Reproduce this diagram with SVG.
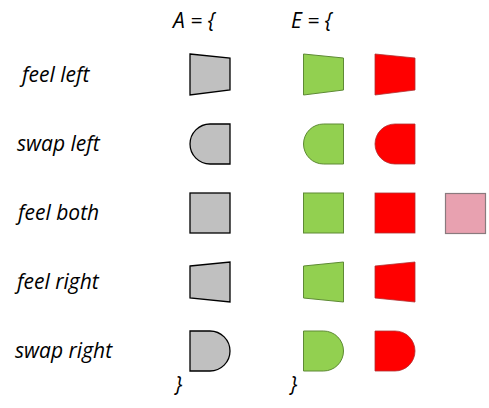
<svg xmlns="http://www.w3.org/2000/svg" width="489" height="408" viewBox="0 0 489 408">
<style>
text{font-family:"Open Sans","Noto Sans","Liberation Sans",sans-serif;font-style:italic;font-size:21px;fill:#000}
.g{fill:#c0c0c0;stroke:#000;stroke-width:1.3}
.gr{fill:#92d050;stroke:#5e8a35;stroke-width:1}
.r{fill:#ff0000;stroke:#b03030;stroke-width:0.8}
.p{fill:#e8a1b0;stroke:#8a7a7e;stroke-width:1.2}
</style>
<defs>
<path id="fl" d="M0,54 L40,58 L40,90 L0,95 Z"/>
<path id="sl" d="M20,124 L40,124 L40,164 L20,164 A20,20 0 0 1 20,124 Z"/>
<rect id="fb" x="0" y="193" width="40" height="40"/>
<path id="fr" d="M0,266 L40,262 L40,302 L0,298 Z"/>
<path id="sr" d="M0,331 L20,331 A20,20 0 0 1 20,371 L0,371 Z"/>
</defs>
<g id="labels">
<text x="173" y="28">A = {</text>
<text x="291" y="28">E = {</text>
<text x="22" y="82">feel left</text>
<text x="17" y="151">swap left</text>
<text x="18" y="220">feel both</text>
<text x="17" y="289">feel right</text>
<text x="15" y="358">swap right</text>
<text x="175" y="392">}</text>
<text x="290" y="392">}</text>
</g>
<g id="col-A">
<use href="#fl" x="190" class="g"/>
<use href="#sl" x="190" class="g"/>
<use href="#fb" x="190" class="g"/>
<use href="#fr" x="190" class="g"/>
<use href="#sr" x="190" class="g"/>
</g>
<g id="col-E-green">
<use href="#fl" x="303.5" class="gr"/>
<use href="#sl" x="303.5" class="gr"/>
<use href="#fb" x="303.5" class="gr"/>
<use href="#fr" x="303.5" class="gr"/>
<use href="#sr" x="303.5" class="gr"/>
</g>
<g id="col-E-red">
<use href="#fl" x="375" class="r"/>
<use href="#sl" x="375" class="r"/>
<use href="#fb" x="375" class="r"/>
<use href="#fr" x="375" class="r"/>
<use href="#sr" x="375" class="r"/>
</g>
<g id="pink">
<rect x="445.5" y="193.5" width="40" height="40" class="p"/>
</g>
<g id="connectors"/>
</svg>
